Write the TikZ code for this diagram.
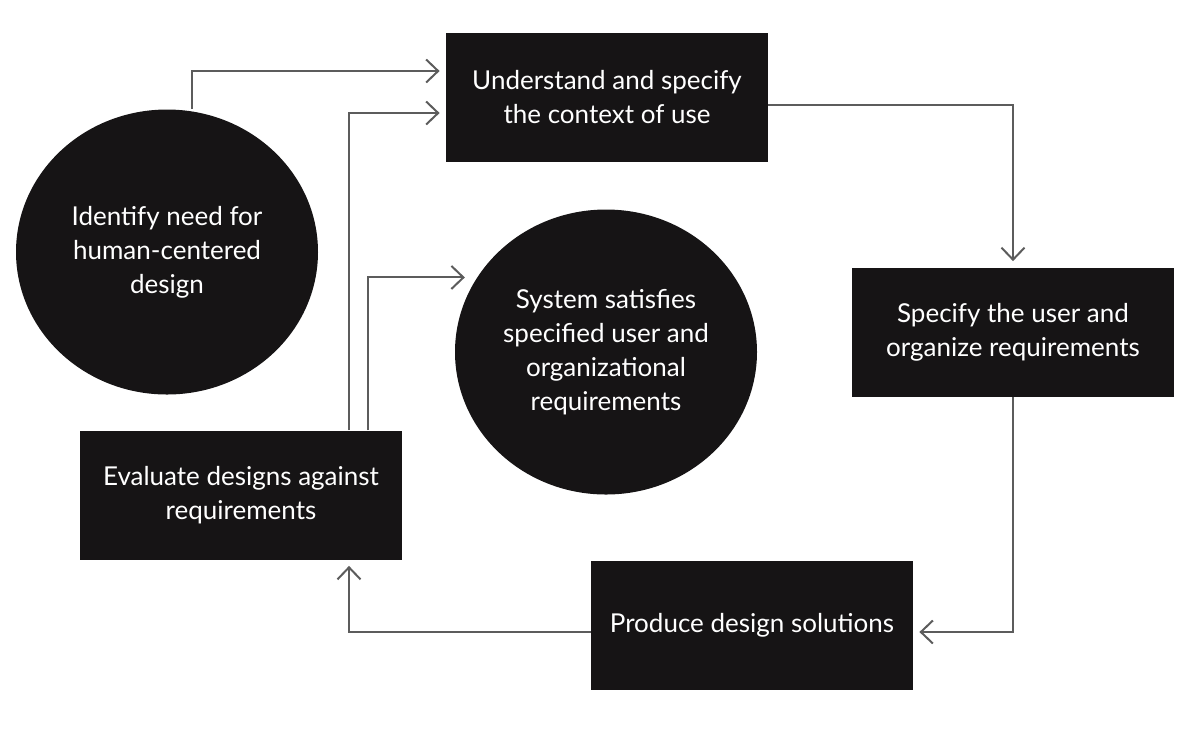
\documentclass[tikz,border=0pt]{standalone}
\usepackage{fontspec}
\setmainfont{Lato}
\usepackage{tikz}
\usetikzlibrary{arrows.meta,positioning,calc,shapes.geometric}
\definecolor{cBox}{HTML}{161415}
\definecolor{cArr}{HTML}{5C5C5C}
\tikzset{
  hbox/.style={rectangle, fill=cBox, text=white, align=center, inner sep=0pt,
               minimum width=161pt, minimum height=64.5pt, font=\fontsize{13}{17}\selectfont},
  hdisc/.style={ellipse, fill=cBox, text=white, align=center, inner sep=0pt,
               minimum width=151pt, minimum height=142.5pt, font=\fontsize{13}{17}\selectfont},
  harr/.style={-{Straight Barb[length=6pt,width=11.5pt]}, line width=1pt, draw=cArr,
               shorten >=3pt},
}

\begin{document}
\begin{tikzpicture}[x=0.5pt, y=-0.5pt]
\useasboundingbox (0,0) rectangle (1200,736);
% ---- start and goal
\node[hdisc] (need) at (167,252) {Identify need for\\human-centered\\design};
\node[hdisc] (sys) at (606,352)
  {System satisfies\\specified user and\\organizational\\requirements};
% ---- the four activities
\node[hbox] (ctx) at (607,97.5) {Understand and specify\\the context of use};
\node[hbox] (spec) at (1013,332) {Specify the user and\\organize requirements};
\node[hbox] (prod) at (752,625) {Produce design solutions};
\node[hbox] (eval) at (241,495) {Evaluate designs against\\requirements};
% ---- entry into the cycle
\draw[harr] ($(need.north)+(25,0)$) |- ($(ctx.west)+(0,-26.5)$);
% ---- the cycle
\draw[harr] ($(ctx.east)+(0,7.5)$) -| (spec.north);
\draw[harr] (spec.south) |- ($(prod.east)+(0,7)$);
\draw[harr] ($(prod.west)+(0,7)$) -| ($(eval.south)+(108,0)$);
\draw[harr] ($(eval.north)+(108,0)$) |- ($(ctx.west)+(0,15.5)$);
% ---- exit when satisfied
\draw[harr, shorten >=6pt] ($(eval.north)+(127,0)$) |- (sys.150);
\end{tikzpicture}
\end{document}
